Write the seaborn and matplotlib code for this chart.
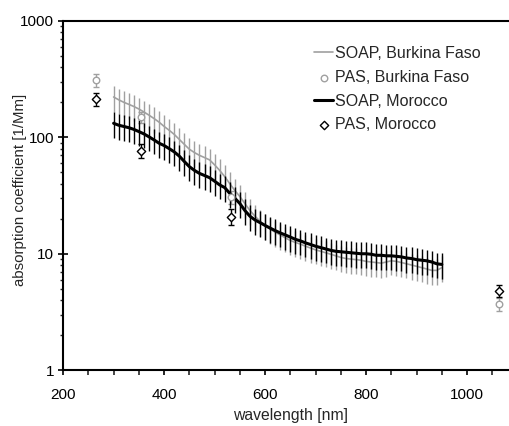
import numpy as np
import pandas as pd
import matplotlib
matplotlib.use('Agg')
import matplotlib.pyplot as plt
import seaborn as sns
from matplotlib.ticker import MultipleLocator, LogLocator, FixedFormatter, FixedLocator, NullFormatter

# SOAP spectra (every 10 nm)
wl_soap = list(range(300, 960, 10))
soap_bf = [222, 210, 200, 192, 184, 175, 165, 155, 145, 135,
           124, 115, 106, 96, 87, 79, 74, 70, 67, 64,
           58, 52, 46, 40, 35, 31, 27, 23.5, 21, 19,
           17.5, 16.3, 15.3, 14.5, 13.7, 13.0, 12.5, 12.1, 11.6, 11.2,
           10.8, 10.5, 10.2, 9.9, 9.6, 9.3, 9.1, 9.0, 8.9, 8.8,
           8.6, 8.5, 8.4, 8.3, 8.5, 8.7, 8.6, 8.4, 8.2, 8.0,
           7.8, 7.6, 7.4, 7.2, 7.2, 7.6]
soap_ma = [132, 127, 124, 121, 117, 112, 107, 101, 95, 89,
           85, 80, 75, 69, 62, 56, 52, 49, 47, 45,
           42, 39, 37, 33, 30, 27, 23.5, 21, 19.5, 18.5,
           17.5, 16.6, 15.8, 15.1, 14.5, 13.9, 13.3, 12.9, 12.4, 12.0,
           11.6, 11.3, 11.0, 10.7, 10.5, 10.4, 10.3, 10.2, 10.1, 10.0,
           10.0, 9.9, 9.7, 9.7, 9.6, 9.6, 9.5, 9.4, 9.2, 9.1,
           8.9, 8.8, 8.7, 8.5, 8.2, 8.1]
soap_rel_err = 0.25

# PAS measurements
wl_pas = [266, 355, 532, 1064]
pas_bf = [311, 149, 30.7, 3.7]
pas_bf_err = [40, 17, 4, 0.5]
pas_ma = [213, 77, 20.8, 4.8]
pas_ma_err = [28, 11, 3.2, 0.55]

sns.set_style("ticks")
plt.rcParams['font.family'] = ['Liberation Sans', 'DejaVu Sans']

fig = plt.figure(figsize=(5.09, 4.26), dpi=100)
ax = fig.add_axes([0.124, 0.131, 0.876, 0.82])

grey = '#a0a0a0'
df_bf = pd.DataFrame({'wl': wl_soap, 'abs': soap_bf})
df_ma = pd.DataFrame({'wl': wl_soap, 'abs': soap_ma})

# SOAP Burkina Faso
ax.errorbar(wl_soap, soap_bf, yerr=np.array(soap_bf) * soap_rel_err, fmt='none',
            ecolor=grey, elinewidth=1.0, capsize=0)
sns.lineplot(data=df_bf, x='wl', y='abs', ax=ax, color=grey, linewidth=1.2,
             label='SOAP, Burkina Faso')
# PAS Burkina Faso
ax.errorbar(wl_pas, pas_bf, yerr=pas_bf_err, fmt='none', ecolor=grey,
            elinewidth=1.0, capsize=2)
sns.scatterplot(x=wl_pas, y=pas_bf, ax=ax, marker='o', s=22, facecolor='white',
                edgecolor=grey, linewidth=1.0, label='PAS, Burkina Faso', zorder=5)
# SOAP Morocco
ax.errorbar(wl_soap, soap_ma, yerr=np.array(soap_ma) * soap_rel_err, fmt='none',
            ecolor='black', elinewidth=1.0, capsize=0)
sns.lineplot(data=df_ma, x='wl', y='abs', ax=ax, color='black', linewidth=2.2,
             label='SOAP, Morocco')
# PAS Morocco
ax.errorbar(wl_pas, pas_ma, yerr=pas_ma_err, fmt='none', ecolor='black',
            elinewidth=1.0, capsize=2)
sns.scatterplot(x=wl_pas, y=pas_ma, ax=ax, marker='D', s=18, facecolor='white',
                edgecolor='black', linewidth=1.0, label='PAS, Morocco', zorder=5)

ax.set_yscale('log')
ax.set_ylim(1, 1000)
ax.set_xlim(200, 1083)
ax.xaxis.set_major_locator(MultipleLocator(200))
ax.xaxis.set_minor_locator(MultipleLocator(50))
ax.yaxis.set_major_locator(FixedLocator([1, 10, 100, 1000]))
ax.yaxis.set_major_formatter(FixedFormatter(['1', '10', '100', '1000']))
ax.yaxis.set_minor_locator(LogLocator(base=10, subs=np.arange(2, 10)))
ax.yaxis.set_minor_formatter(NullFormatter())

for s in ['left', 'bottom', 'top']:
    ax.spines[s].set_linewidth(1.5)
    ax.spines[s].set_color('black')
ax.spines['right'].set_visible(False)
ax.tick_params(axis='x', which='both', length=3.6, width=1.2, direction='out')
ax.tick_params(axis='x', which='major', labelsize=11, pad=9)
ax.tick_params(axis='y', which='major', length=7, width=1.2, direction='inout',
               labelsize=11, pad=3)
ax.tick_params(axis='y', which='minor', length=2.5, width=1.0, direction='out')
ax.tick_params(colors='black')

ax.set_xlabel('wavelength [nm]', fontsize=11.3)
ax.set_ylabel('absorption coefficient [1/Mm]', fontsize=10.8)
ax.xaxis.set_label_coords(0.51, -0.109)
ax.yaxis.set_label_coords(-0.08, 0.516)

ax.legend(loc='upper left', bbox_to_anchor=(0.563, 0.928), frameon=False,
          fontsize=11.5, handlelength=1.2, handletextpad=0.1, labelspacing=0.55,
          borderpad=0, borderaxespad=0)

fig.savefig('out.png', dpi=100)
